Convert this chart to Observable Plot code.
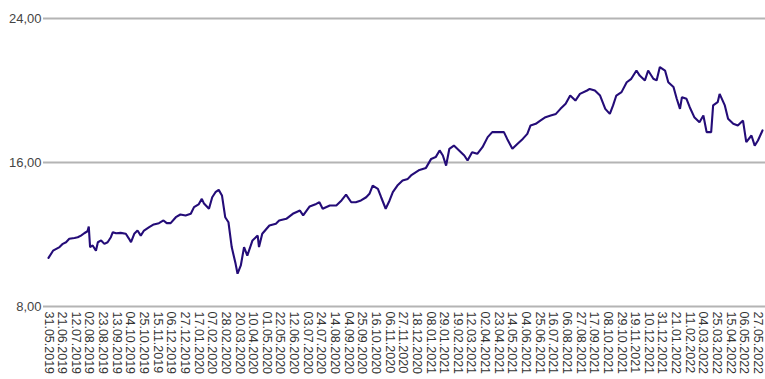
<!DOCTYPE html>
<html>
<head>
<meta charset="utf-8">
<script src="https://cdn.jsdelivr.net/npm/d3@7"></script>
<script src="https://cdn.jsdelivr.net/npm/@observablehq/plot@0.6"></script>
<style>
  html, body { margin: 0; padding: 0; background: #fff; }
  #chart { width: 765px; height: 379px; overflow: hidden; }
</style>
</head>
<body>
<div id="chart"></div>
<script>
const dates = [
  "2019-05-31","2019-06-07","2019-06-12","2019-06-17","2019-06-22","2019-06-27","2019-07-02","2019-07-10","2019-07-15","2019-07-20",
  "2019-07-25","2019-07-30","2019-08-01","2019-08-03","2019-08-07","2019-08-12","2019-08-15","2019-08-20","2019-08-25","2019-08-30",
  "2019-09-04","2019-09-07","2019-09-12","2019-09-19","2019-09-27","2019-10-02","2019-10-05","2019-10-10","2019-10-15","2019-10-20",
  "2019-10-25","2019-11-02","2019-11-09","2019-11-17","2019-11-24","2019-11-29","2019-12-05","2019-12-13","2019-12-20","2019-12-28",
  "2020-01-05","2020-01-10","2020-01-17","2020-01-22","2020-01-25","2020-02-02","2020-02-07","2020-02-12","2020-02-17","2020-02-22",
  "2020-02-27","2020-03-03","2020-03-08","2020-03-14","2020-03-17","2020-03-22","2020-03-27","2020-04-01","2020-04-09","2020-04-17",
  "2020-04-19","2020-04-24","2020-05-05","2020-05-15","2020-05-20","2020-05-31","2020-06-10","2020-06-21","2020-06-26","2020-07-06",
  "2020-07-16","2020-07-21","2020-07-26","2020-08-06","2020-08-16","2020-08-24","2020-08-31","2020-09-08","2020-09-15","2020-09-23",
  "2020-10-01","2020-10-06","2020-10-11","2020-10-19","2020-10-24","2020-10-31","2020-11-06","2020-11-11","2020-11-18","2020-11-26",
  "2020-12-04","2020-12-09","2020-12-22","2021-01-01","2021-01-09","2021-01-16","2021-01-22","2021-01-27","2021-02-01","2021-02-06",
  "2021-02-13","2021-02-21","2021-03-01","2021-03-06","2021-03-13","2021-03-21","2021-03-29","2021-04-06","2021-04-13","2021-04-23",
  "2021-05-01","2021-05-06","2021-05-14","2021-05-22","2021-05-30","2021-06-06","2021-06-11","2021-06-19","2021-06-26","2021-07-04",
  "2021-07-12","2021-07-20","2021-07-27","2021-08-04","2021-08-11","2021-08-19","2021-08-26","2021-09-06","2021-09-10","2021-09-18",
  "2021-09-26","2021-10-04","2021-10-11","2021-10-16","2021-10-21","2021-10-29","2021-11-06","2021-11-13","2021-11-21","2021-11-26",
  "2021-12-04","2021-12-09","2021-12-17","2021-12-22","2021-12-27","2022-01-04","2022-01-09","2022-01-17","2022-01-22","2022-01-27",
  "2022-01-30","2022-02-06","2022-02-11","2022-02-18","2022-02-26","2022-03-04","2022-03-09","2022-03-16","2022-03-19","2022-03-26",
  "2022-03-29","2022-04-06","2022-04-11","2022-04-19","2022-04-26","2022-05-04","2022-05-09","2022-05-17","2022-05-22","2022-05-27",
  "2022-06-03"
];
const values = [
  10.70,11.10,11.20,11.30,11.48,11.57,11.76,11.81,11.85,11.94,
  12.07,12.18,12.44,11.30,11.39,11.10,11.57,11.67,11.48,11.57,
  11.85,12.13,12.07,12.09,12.04,11.76,11.57,12.04,12.22,11.94,
  12.22,12.41,12.56,12.63,12.78,12.63,12.63,12.96,13.11,13.06,
  13.15,13.52,13.67,13.98,13.74,13.43,14.07,14.35,14.48,14.17,
  12.96,12.68,11.30,10.37,9.82,10.28,11.30,10.83,11.67,11.94,
  11.30,12.04,12.50,12.60,12.78,12.87,13.15,13.33,13.06,13.56,
  13.70,13.79,13.43,13.61,13.61,13.89,14.22,13.79,13.79,13.89,
  14.07,14.26,14.72,14.54,14.07,13.43,13.89,14.35,14.72,15.00,
  15.09,15.28,15.59,15.70,16.20,16.30,16.67,16.39,15.83,16.76,
  16.94,16.67,16.39,16.11,16.57,16.48,16.85,17.41,17.69,17.69,
  17.69,17.31,16.76,17.04,17.31,17.59,18.06,18.15,18.33,18.52,
  18.61,18.70,18.98,19.26,19.72,19.44,19.81,20.00,20.09,20.00,
  19.72,18.98,18.70,19.17,19.72,19.91,20.46,20.65,21.11,20.83,
  20.56,21.11,20.65,20.56,21.30,21.11,20.46,20.19,19.54,18.98,
  19.63,19.54,19.07,18.52,18.24,18.61,17.69,17.69,19.17,19.35,
  19.81,19.17,18.43,18.15,18.06,18.33,17.13,17.50,16.94,17.22,
  17.78
];
const yTicks = [8, 16, 24];
const xTickLabels = [
  "31.05.2019","21.06.2019","12.07.2019","02.08.2019","23.08.2019","13.09.2019","04.10.2019","25.10.2019","15.11.2019","06.12.2019",
  "27.12.2019","17.01.2020","07.02.2020","28.02.2020","20.03.2020","10.04.2020","01.05.2020","22.05.2020","12.06.2020","03.07.2020",
  "24.07.2020","14.08.2020","04.09.2020","25.09.2020","16.10.2020","06.11.2020","27.11.2020","18.12.2020","08.01.2021","29.01.2021",
  "19.02.2021","12.03.2021","02.04.2021","23.04.2021","14.05.2021","04.06.2021","25.06.2021","16.07.2021","06.08.2021","27.08.2021",
  "17.09.2021","08.10.2021","29.10.2021","19.11.2021","10.12.2021","31.12.2021","21.01.2022","11.02.2022","04.03.2022","25.03.2022",
  "15.04.2022","06.05.2022","27.05.2022"
];

const parseIso = d3.utcParse("%Y-%m-%d");
const parseDe = d3.utcParse("%d.%m.%Y");
const fmtDe = d3.utcFormat("%d.%m.%Y");
const data = dates.map((d, i) => ({date: parseIso(d), value: values[i]}));
const xTicks = xTickLabels.map(parseDe);

const chart = Plot.plot({
  width: 765,
  height: 379,
  marginTop: 18,
  marginBottom: 73,
  marginLeft: 43,
  marginRight: 0,
  style: {fontFamily: "Arial, 'Liberation Sans', sans-serif", background: "#fff", overflow: "hidden"},
  x: {type: "utc", domain: [parseIso(dates[0]), parseIso(dates[dates.length - 1])], insetLeft: 5, insetRight: 3},
  y: {domain: [8, 24]},
  marks: [
    Plot.ruleY(yTicks, {stroke: "#b4b4b4", strokeWidth: 2}),
    Plot.axisY(yTicks, {tickSize: 0, tickPadding: 2, fontSize: 13, fill: "#444",
      tickFormat: d => d.toFixed(2).replace(".", ","), label: null}),
    Plot.axisX(xTicks, {tickSize: 0, tickPadding: 5, tickRotate: 90, fontSize: 12.5, fill: "#333",
      tickFormat: fmtDe, label: null}),
    Plot.line(data, {x: "date", y: "value", stroke: "#240c78", strokeWidth: 2.1, strokeLinejoin: "miter"})
  ]
});
document.getElementById("chart").appendChild(chart);
</script>
</body>
</html>
